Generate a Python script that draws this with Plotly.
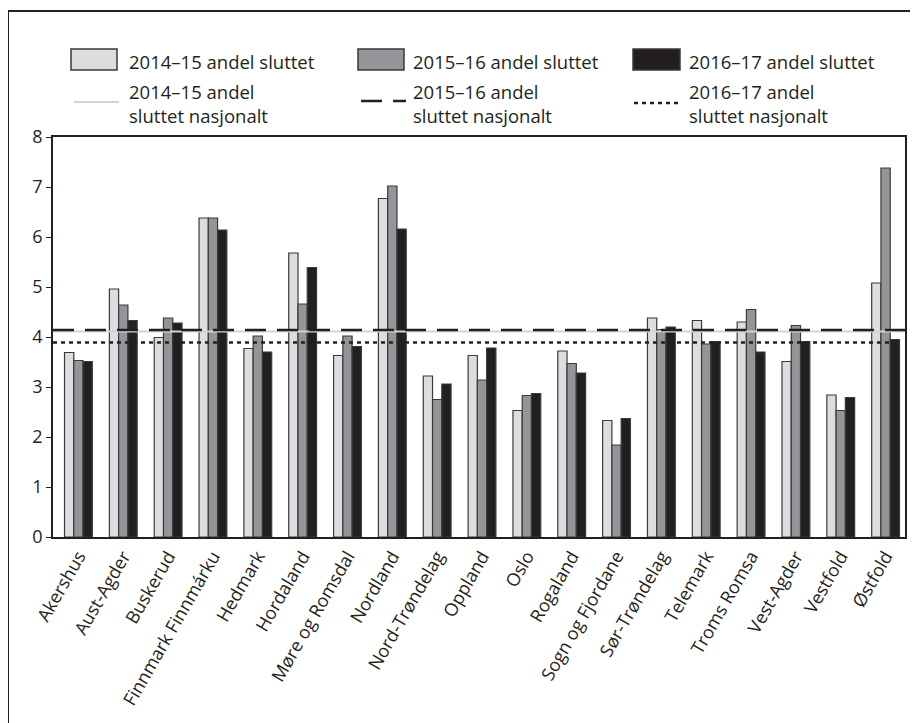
import plotly.graph_objects as go

categories = ["Akershus", "Aust-Agder", "Buskerud", "Finnmark Finnmárku", "Hedmark",
              "Hordaland", "Møre og Romsdal", "Nordland", "Nord-Trøndelag", "Oppland",
              "Oslo", "Rogaland", "Sogn og Fjordane", "Sør-Trøndelag", "Telemark",
              "Troms Romsa", "Vest-Agder", "Vestfold", "Østfold"]

andel_2014_15 = [3.69, 4.96, 3.99, 6.38, 3.77, 5.68, 3.63, 6.77, 3.22, 3.63, 2.53, 3.72, 2.33, 4.38, 4.33, 4.30, 3.51, 2.84, 5.08]
andel_2015_16 = [3.53, 4.64, 4.38, 6.38, 4.02, 4.66, 4.02, 7.02, 2.75, 3.14, 2.83, 3.47, 1.84, 4.15, 3.86, 4.55, 4.23, 2.53, 7.38]
andel_2016_17 = [3.51, 4.33, 4.28, 6.14, 3.70, 5.39, 3.81, 6.16, 3.06, 3.78, 2.87, 3.28, 2.37, 4.20, 3.91, 3.70, 3.91, 2.79, 3.95]

nasjonalt_2014_15 = 4.11
nasjonalt_2015_16 = 4.14
nasjonalt_2016_17 = 3.89

series_names = ["2014–15 andel sluttet", "2015–16 andel sluttet", "2016–17 andel sluttet"]
line_names = ["2014–15 andel<br>sluttet nasjonalt",
              "2015–16 andel<br>sluttet nasjonalt",
              "2016–17 andel<br>sluttet nasjonalt"]
y_ticks = [0, 1, 2, 3, 4, 5, 6, 7, 8]

DARK = "#231f20"
LIGHT = "#dcdddf"
MID = "#939598"
OUTLINE = "#3a3a3a"
GRAYLINE = "#d2d3d5"
FONT = "Open Sans"

fig = go.Figure()
for vals, col, name in zip([andel_2014_15, andel_2015_16, andel_2016_17],
                           [LIGHT, MID, DARK], series_names):
    fig.add_trace(go.Bar(x=categories, y=vals, name=name, marker_color=col,
                         marker_line_color=OUTLINE, marker_line_width=1.2,
                         showlegend=False))

# page offset (browser body margin) and plot-area geometry in screen pixels
OFF = 8
L, R, T, B = 53 - OFF, 905 - OFF, 137 - OFF, 537 - OFF
W, H = R - L, B - T


def px(x):
    return (x - OFF - L) / W


def py(y):
    return (B - (y - OFF)) / H


shapes = []
# national reference lines
shapes.append(dict(type="line", xref="paper", yref="y", x0=0, x1=1,
                   y0=nasjonalt_2014_15, y1=nasjonalt_2014_15,
                   line=dict(color=GRAYLINE, width=2), layer="above"))
shapes.append(dict(type="line", xref="paper", yref="y", x0=0, x1=1,
                   y0=nasjonalt_2015_16, y1=nasjonalt_2015_16,
                   line=dict(color=DARK, width=2.6, dash="21px,11px"), layer="above"))
shapes.append(dict(type="line", xref="paper", yref="y", x0=0, x1=0.995,
                   y0=nasjonalt_2016_17, y1=nasjonalt_2016_17,
                   line=dict(color=DARK, width=2.6, dash="4px,4px"), layer="above"))

# outer frame
shapes.append(dict(type="rect", xref="paper", yref="paper",
                   x0=px(8), x1=px(940), y0=py(11), y1=py(760),
                   line=dict(color=DARK, width=2), fillcolor="rgba(0,0,0,0)"))

# legend swatches (bars)
sw_x = [(71, 117), (358, 404), (633, 680)]
for (x0, x1), col in zip(sw_x, [LIGHT, MID, DARK]):
    shapes.append(dict(type="rect", xref="paper", yref="paper",
                       x0=px(x0), x1=px(x1), y0=py(49), y1=py(70),
                       fillcolor=col, line=dict(color=OUTLINE, width=1.5)))
# legend line symbols
shapes.append(dict(type="line", xref="paper", yref="paper", x0=px(74), x1=px(119),
                   y0=py(102), y1=py(102), line=dict(color=GRAYLINE, width=2)))
shapes.append(dict(type="line", xref="paper", yref="paper", x0=px(361), x1=px(406),
                   y0=py(101), y1=py(101), line=dict(color=DARK, width=2.6, dash="21px,11px")))
shapes.append(dict(type="line", xref="paper", yref="paper", x0=px(634), x1=px(679),
                   y0=py(103), y1=py(103), line=dict(color=DARK, width=2.6, dash="4px,4px")))

annotations = []
text_x = [127, 411, 687]
for tx, name in zip(text_x, series_names):
    annotations.append(dict(text=name, xref="paper", yref="paper", x=px(tx), y=py(61),
                            xanchor="left", yanchor="middle", showarrow=False,
                            font=dict(family=FONT, size=18.5, color=DARK)))
for tx, name in zip(text_x, line_names):
    annotations.append(dict(text=name, xref="paper", yref="paper", x=px(tx), y=py(103),
                            xanchor="left", yanchor="middle", align="left", showarrow=False,
                            font=dict(family=FONT, size=18.5, color=DARK)))

fig.update_layout(
    width=918, height=723,
    margin=dict(l=L, r=918 - R, t=T, b=723 - B, pad=0, autoexpand=False),
    paper_bgcolor="white", plot_bgcolor="white",
    barmode="group", bargap=0.38, bargroupgap=0,
    showlegend=False,
    shapes=shapes, annotations=annotations,
    font=dict(family=FONT, size=18, color=DARK),
)
fig.update_xaxes(type="category", range=[-0.567, 18.433], showline=True, linecolor=DARK,
                 linewidth=1.5, mirror=True, ticks="", tickangle=-60,
                 tickfont=dict(family=FONT, size=18, color=DARK), showgrid=False)
fig.update_yaxes(range=[0, 8], tickvals=y_ticks, showline=True, linecolor=DARK,
                 linewidth=1.5, mirror=True, ticks="outside", ticklen=5,
                 tickcolor=DARK, tickwidth=1.2,
                 tickfont=dict(family=FONT, size=18, color=DARK),
                 showgrid=False, zeroline=False)

fig.write_html("out.html")
